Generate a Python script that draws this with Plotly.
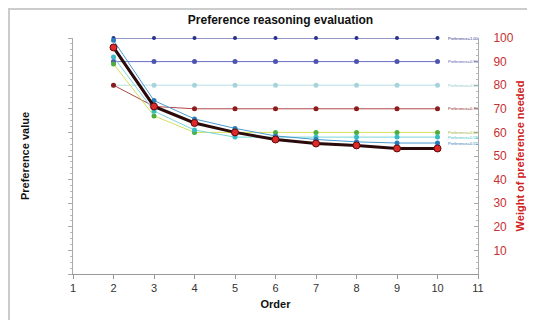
import plotly.graph_objects as go

orders = [2, 3, 4, 5, 6, 7, 8, 9, 10]

s_100 = [100, 100, 100, 100, 100, 100, 100, 100, 100]
s_90 = [90, 90, 90, 90, 90, 90, 90, 90, 90]
s_80 = [80, 80, 80, 80, 80, 80, 80, 80, 80]
s_70 = [80, 71, 70, 70, 70, 70, 70, 70, 70]
s_60 = [89, 67, 60, 60, 60, 60, 60, 60, 60]
s_58 = [92, 69, 61, 58, 58, 58, 58, 58, 58]
s_55 = [99, 73.5, 65.7, 61.7, 58.5, 57, 56, 55.5, 55.5]
s_main = [96, 71, 64, 60, 57, 55.3, 54.5, 53.2, 53.2]

labels = ["Preference=1.00", "Preference=0.90", "Preference=0.80", "Preference=0.70",
          "Preference=0.60", "Preference=0.58", "Preference=0.55"]

x_ticks = [1, 2, 3, 4, 5, 6, 7, 8, 9, 10, 11]
right_ticks = [10, 20, 30, 40, 50, 60, 70, 80, 90, 100]

series = [
    (s_100, "#27308a", "#27308a", 4),
    (s_90, "#6a6fc0", "#4e55b0", 5),
    (s_80, "#b8e0e4", "#a6d4da", 5),
    (s_70, "#b04848", "#8a1c1c", 5),
    (s_60, "#d4e060", "#4cae3c", 5),
    (s_58, "#7ad6dc", "#38bcc4", 5),
    (s_55, "#4a9ad0", "#2a7ab8", 5),
]

fig = go.Figure()
for vals, lc, mc, ms in series:
    fig.add_trace(go.Scatter(
        x=orders, y=vals, mode="lines+markers",
        line=dict(color=lc, width=1),
        marker=dict(color=mc, size=ms),
        cliponaxis=False, showlegend=False))

fig.add_trace(go.Scatter(
    x=orders, y=s_main, mode="lines+markers",
    line=dict(color="#2a0a0a", width=3),
    marker=dict(color="#e02a2a", size=7, line=dict(color="#5a0a0a", width=1)),
    cliponaxis=False, showlegend=False))

label_vals = [s_100[-1], s_90[-1], s_80[-1], s_70[-1], s_60[-1], s_58[-1], s_55[-1]]
label_cols = ["#27308a", "#4e55b0", "#8cc8cc", "#8a1c1c", "#9ab030", "#38bcc4", "#2a7ab8"]
for lab, v, c in zip(labels, label_vals, label_cols):
    fig.add_annotation(x=10.2, y=v, text=lab, showarrow=False, xanchor="left",
                       font=dict(size=4, color=c, family="Liberation Sans"))

fig.add_trace(go.Scatter(x=[None], y=[None], yaxis="y2", showlegend=False))

axis_font = dict(family="Liberation Sans", size=11, color="#333")

# page has an 8px body margin, so the figure is shrunk by 8px and offsets reduced
W, H = 527, 312
L, R, T, B = 65, 57, 30, 46
pw, ph = W - L - R, H - T - B

fig.update_layout(
    width=W, height=H,
    margin=dict(l=L, r=R, t=T, b=B, autoexpand=False),
    paper_bgcolor="white", plot_bgcolor="white",
    title=dict(text="<b>Preference reasoning evaluation</b>", x=(L + 0.5 * pw + 5) / W,
               xanchor="center", y=1 - 12 / H, yref="container", yanchor="middle",
               font=dict(family="Liberation Sans", size=12, color="#111")),
    xaxis=dict(range=[1, 11], tickvals=x_ticks, showgrid=False, zeroline=False,
               automargin=False,
               showline=True, linecolor="#999", linewidth=1,
               ticks="outside", ticklen=4, tickcolor="#999",
               tickfont=axis_font,
               title=dict(text="<b>Order</b>", standoff=7,
                          font=dict(family="Liberation Sans", size=11, color="#111"))),
    yaxis=dict(range=[0, 100], showgrid=False, zeroline=False, automargin=False,
               showline=True, linecolor="#aaa", linewidth=1,
               ticks="outside", ticklen=4, tickcolor="#aaa", dtick=10,
               minor=dict(ticks="outside", ticklen=2, dtick=2.5, tickcolor="#bbb"),
               showticklabels=False,
               title=dict(text="<b>Preference value</b>", standoff=36,
                          font=dict(family="Liberation Sans", size=11, color="#111"))),
    yaxis2=dict(range=[0, 100], overlaying="y", side="right", showgrid=False,
                zeroline=False, showline=True, linecolor="#aaa", linewidth=1,
                automargin=False,
                tickvals=right_ticks, ticks="inside", ticklen=4, tickcolor="#aaa",
                minor=dict(ticks="inside", ticklen=2, dtick=2.5, tickcolor="#bbb"),
                ticklabelstandoff=12,
                tickfont=dict(family="Liberation Sans", size=12, color="#c83030"),
                title=dict(text="<b>Weight of preference needed</b>", standoff=3,
                           font=dict(family="Liberation Sans", size=11, color="#d02020"))),
    shapes=[
        dict(type="line", xref="paper", yref="paper", x0=-L / pw, x1=1 + R / pw,
             y0=1 + (T - 1) / ph, y1=1 + (T - 1) / ph, line=dict(color="#cccccc", width=2)),
        dict(type="line", xref="paper", yref="paper", x0=(1 - L) / pw, x1=(1 - L) / pw,
             y0=-B / ph, y1=1 + T / ph, line=dict(color="#cccccc", width=2)),
    ],
)

fig.write_html("out.html")
